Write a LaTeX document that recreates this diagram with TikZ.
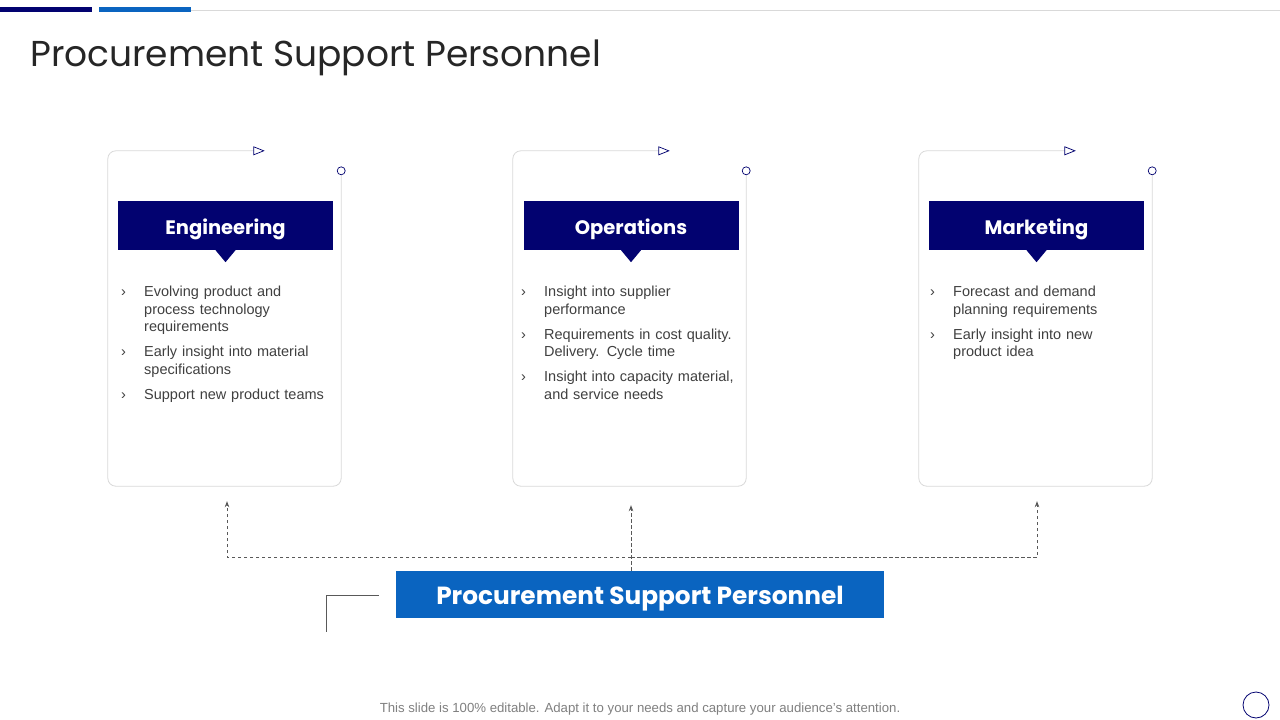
\documentclass[tikz,border=0pt]{standalone}
\usepackage{fontspec}
\setmainfont{Liberation Sans}
\newfontfamily\titlefont{Poppins}
\usetikzlibrary{positioning,arrows.meta,calc}

\definecolor{navy}{HTML}{020270}
\definecolor{psblue}{HTML}{0A64C0}
\definecolor{rulegray}{HTML}{D9D9D9}
\definecolor{txtgray}{HTML}{404040}
\definecolor{dashgray}{HTML}{595959}

\newcommand{\bitem}[1]{\hangindent=24pt\hangafter=1\noindent\makebox[24pt][l]{\hspace{1pt}›}#1\par}

\tikzset{
  card/.style={minimum width=233pt, minimum height=335pt, inner sep=0pt},
  cardline/.style={draw=rulegray, line width=0.8pt, rounded corners=8pt},
  mark tri/.style={draw=navy, line width=0.7pt, fill=white},
  head/.style={fill=navy, text=white, minimum width=215pt, minimum height=49pt, inner sep=0pt,
    text height=17pt, text depth=0pt, font=\titlefont\bfseries\fontsize{19.5}{23}\selectfont},
  blist/.style={anchor=north west, text width=215pt, align=left, inner sep=0pt, text=txtgray,
    font=\fontsize{14.5}{17.5}\selectfont, execute at begin node={\setlength{\parskip}{7.5pt}}},
  flow/.style={draw=dashgray, dash pattern=on 3.5pt off 2.5pt, line width=0.8pt, -{Stealth[length=6pt,width=4.5pt]}},
}

\begin{document}
\begin{tikzpicture}[x=1pt,y=-1pt]
\useasboundingbox (0,0) rectangle (1280,720);
\fill[white] (0,0) rectangle (1280,720);

% top bars and title
\fill[navy] (0,7) rectangle (92,12);
\fill[psblue] (99,7) rectangle (191,12);
\draw[rulegray, line width=0.8pt] (191,10) -- (1280,10);
\node[anchor=base west, inner sep=0pt, text=black!85, font=\titlefont\fontsize{36}{42}\selectfont] (title) at (30,66) {Procurement Support Personnel};

% cards
\node[card] (engcard) at (224.5,318.5) {};
\node[card] (opscard) at (629.5,318.5) {};
\node[card] (mktcard) at (1035.5,318.5) {};
\foreach \c in {engcard,opscard,mktcard} {
  \draw[cardline] ($(\c.north west)+(146,0)$) -- (\c.north west) -- (\c.south west) -- (\c.south east) -- ($(\c.north east)+(0,24)$);
  \draw[mark tri] ($(\c.north west)+(146,-4)$) -- ($(\c.north west)+(156,0)$) -- ($(\c.north west)+(146,4)$) -- cycle;
  \draw[navy, line width=0.7pt, fill=white] ($(\c.north east)+(0,20)$) circle (4);
}

% headers
\node[head] (eng) at (225.5,225.5) {Engineering};
\node[head] (ops) at (631,225.5) {Operations};
\node[head] (mkt) at (1036.5,225.5) {Marketing};
\foreach \h in {eng,ops,mkt}
  \fill[navy] ($(\h.south)+(-10,0)$) -- ($(\h.south)+(10,0)$) -- ($(\h.south)+(0,12)$) -- cycle;

% bullet lists
\node[blist] (englist) at (120,286) {%
  \bitem{Evolving product and\newline process technology\newline requirements}
  \bitem{Early insight into material\newline specifications}
  \bitem{Support new product teams}};
\node[blist] (opslist) at (520,286) {%
  \bitem{Insight into supplier\newline performance}
  \bitem{Requirements in cost quality.\newline Delivery. Cycle time}
  \bitem{Insight into capacity material,\newline and service needs}};
\node[blist] (mktlist) at (929,286) {%
  \bitem{Forecast and demand\newline planning requirements}
  \bitem{Early insight into new\newline product idea}};

% bottom box
\node[fill=psblue, text=white, minimum width=488pt, minimum height=47pt, inner sep=0pt,
  text height=20pt, text depth=0pt, font=\titlefont\bfseries\fontsize{24.8}{28}\selectfont] (psp) at (640,594.5) {Procurement Support Personnel};
\draw[dashgray, line width=0.8pt] ($(psp.west)+(-17,1)$) -- ($(psp.west)+(-69,1)$) -- ($(psp.west)+(-69,37)$);

% connectors
\coordinate (hub) at (631,557);
\coordinate (engtip) at ($(engcard.south)+(2.5,15)$);
\coordinate (opstip) at ($(opscard.south)+(1.5,19)$);
\coordinate (mkttip) at ($(mktcard.south)+(1.5,15)$);
\draw[flow] (hub) -| (engtip);
\draw[flow] (hub) -| (mkttip);
\draw[flow] (opstip |- psp.north) -- (opstip);

% footer
\node[text=black!50, font=\fontsize{13.2}{15}\selectfont] (foot) at (640,709) {This slide is 100\% editable. Adapt it to your needs and capture your audience's attention.};
\draw[navy, line width=0.8pt] (1256,705) circle (13);
\end{tikzpicture}
\end{document}
